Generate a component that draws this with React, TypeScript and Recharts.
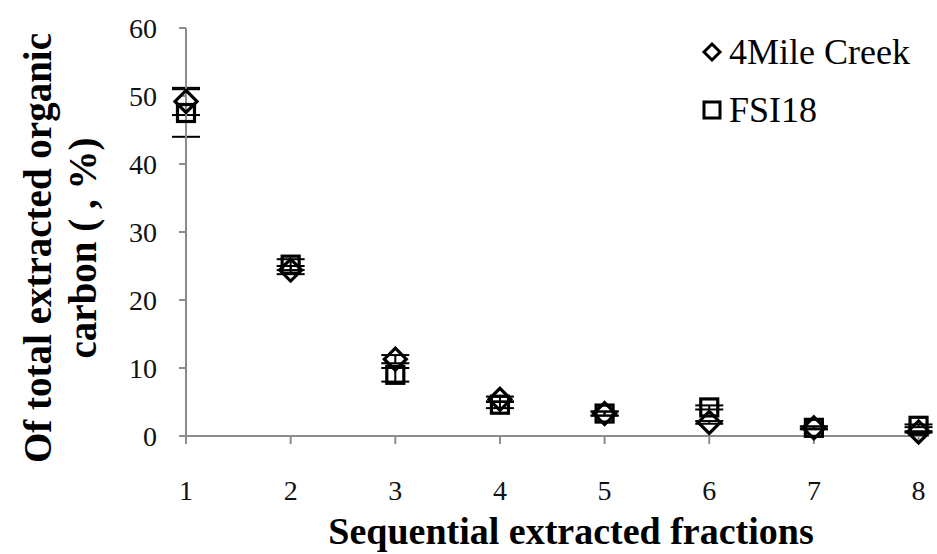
import React from 'react';
import { ScatterChart, Scatter, XAxis, YAxis, ErrorBar } from 'recharts';

// Sequential extraction fractions (x) and the share of total extracted OC (%) per fraction
const fractions = [1, 2, 3, 4, 5, 6, 7, 8];
const mileCreek = [49.2, 24.4, 11.3, 5.4, 3.3, 2.0, 1.2, 0.6];
const mileCreekErr = [2.0, 0.6, 0.6, 0.4, 0.3, 0.2, 0.2, 0.1];
const fsi18 = [47.5, 25.2, 9.0, 4.6, 3.3, 4.2, 1.2, 1.5];
const fsi18Err = [3.5, 0.8, 1.0, 0.5, 0.3, 0.3, 0.2, 0.2];
const yTicks = [0, 10, 20, 30, 40, 50, 60];
const seriesNames = ['4Mile Creek', 'FSI18'];

const mileData = fractions.map((f, i) => ({ x: f, y: mileCreek[i], err: mileCreekErr[i] }));
const fsiData = fractions.map((f, i) => ({ x: f, y: fsi18[i], err: fsi18Err[i] }));

const SERIF = '"Liberation Serif", "Times New Roman", serif';
const AXIS_GREY = '#8c8c8c';

const Diamond = (props: any) => {
  const { cx, cy } = props;
  if (cx == null || cy == null) return null;
  const r = 11;
  return (
    <path
      d={`M${cx},${cy - r} L${cx + r},${cy} L${cx},${cy + r} L${cx - r},${cy} Z`}
      fill="none"
      stroke="#000"
      strokeWidth={3.2}
    />
  );
};

const Square = (props: any) => {
  const { cx, cy } = props;
  if (cx == null || cy == null) return null;
  const h = 8.5;
  return (
    <rect x={cx - h} y={cy - h} width={2 * h} height={2 * h} fill="none" stroke="#000" strokeWidth={3.2} />
  );
};

// Legend drawn as an overlay in the top-right corner of the plot
const LegendBox = () => (
  <div
    style={{
      position: 'absolute',
      left: 700,
      top: 23,
      fontFamily: SERIF,
      fontSize: 36,
      color: '#000',
      lineHeight: '58px',
      whiteSpace: 'nowrap',
    }}
  >
    <div style={{ display: 'flex', alignItems: 'center' }}>
      <svg width={24} height={22} style={{ marginRight: 5 }}>
        <path d="M12,3 L20,11 L12,19 L4,11 Z" fill="none" stroke="#000" strokeWidth={3} />
      </svg>
      <span>{seriesNames[0]}</span>
    </div>
    <div style={{ display: 'flex', alignItems: 'center' }}>
      <svg width={24} height={22} style={{ marginRight: 5 }}>
        <rect x={4} y={3} width={16} height={16} fill="none" stroke="#000" strokeWidth={3} />
      </svg>
      <span>{seriesNames[1]}</span>
    </div>
  </div>
);

const YTitle = (props: any) => {
  const { viewBox } = props;
  const cy = viewBox.y + viewBox.height / 2 + 16;
  return (
    <g fontFamily={SERIF} fontWeight="bold" fontSize={39} fill="#000" textAnchor="middle">
      <text transform={`translate(37, ${cy}) rotate(-90)`} dominantBaseline="central">
        Of total extracted organic
      </text>
      <text transform={`translate(82, ${cy}) rotate(-90)`} dominantBaseline="central">
        carbon ( , %)
      </text>
    </g>
  );
};

const XTitle = (props: any) => {
  const { viewBox } = props;
  return (
    <text
      x={571}
      y={viewBox.y + 95}
      textAnchor="middle"
      dominantBaseline="central"
      fontFamily={SERIF}
      fontWeight="bold"
      fontSize={38}
      fill="#000"
    >
      Sequential extracted fractions
    </text>
  );
};

export default function App() {
  return (
    <div style={{ position: 'absolute', left: 0, top: 0, width: 937, height: 554, background: '#fff' }}>
      <ScatterChart width={937} height={554} margin={{ top: 28, right: 8, bottom: 0, left: 0 }}>
        <XAxis
          type="number"
          dataKey="x"
          domain={[1, 8.1]}
          ticks={fractions}
          height={118}
          axisLine={{ stroke: AXIS_GREY, strokeWidth: 2 }}
          tickLine={{ stroke: AXIS_GREY, strokeWidth: 2 }}
          tickSize={8}
          tickMargin={36}
          tick={{ fontFamily: SERIF, fontSize: 28, fill: '#111' }}
          label={<XTitle />}
        />
        <YAxis
          type="number"
          dataKey="y"
          domain={[0, 60]}
          ticks={yTicks}
          width={186}
          axisLine={{ stroke: AXIS_GREY, strokeWidth: 2 }}
          tickLine={{ stroke: AXIS_GREY, strokeWidth: 2 }}
          tickSize={7}
          tickMargin={22}
          tick={{ fontFamily: SERIF, fontSize: 28, fill: '#111' }}
          label={<YTitle />}
        />
        <Scatter name={seriesNames[0]} data={mileData} shape={<Diamond />} isAnimationActive={false}>
          <ErrorBar dataKey="err" direction="y" width={14} stroke="#000" strokeWidth={2} />
        </Scatter>
        <Scatter name={seriesNames[1]} data={fsiData} shape={<Square />} isAnimationActive={false}>
          <ErrorBar dataKey="err" direction="y" width={14} stroke="#000" strokeWidth={2} />
        </Scatter>
      </ScatterChart>
      <LegendBox />
    </div>
  );
}
